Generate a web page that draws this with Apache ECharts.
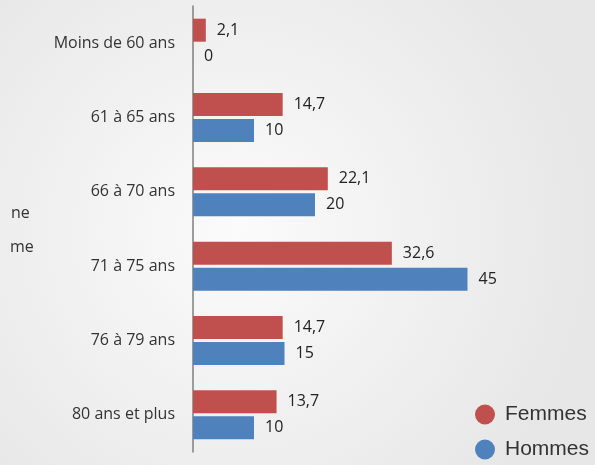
<!DOCTYPE html>
<html><head><meta charset="utf-8">
<script src="https://cdn.jsdelivr.net/npm/echarts@6/dist/echarts.min.js"></script>
<style>html,body{margin:0;padding:0;}#c{width:595px;height:465px;}</style>
</head><body><div id="c"></div>
<script>
const categories = ['Moins de 60 ans','61 à 65 ans','66 à 70 ans','71 à 75 ans','76 à 79 ans','80 ans et plus'];
const femmes = [2.1, 14.7, 22.1, 32.6, 14.7, 13.7];
const hommes = [0, 10, 20, 45, 15, 10];
const seriesNames = ['Femmes','Hommes'];
const strayTexts = ['ne','me'];

const fmt = p => String(p.value).replace('.', ',');
const chart = echarts.init(document.getElementById('c'));
chart.setOption({
  backgroundColor: {type:'radial', x:0.4, y:0.5, r:0.75,
    colorStops:[{offset:0,color:'#fbfbfb'},{offset:1,color:'#e7e7e7'}]},
  animation:false,
  grid:{left:193, top:6, width:366, height:446, containLabel:false},
  xAxis:{type:'value', min:0, max:60, show:false},
  yAxis:[{
    type:'category', data:categories, inverse:true,
    axisLine:{lineStyle:{color:'#7f7f7f', width:1.5}},
    axisTick:{length:6, lineStyle:{color:'#7f7f7f', width:1.5}},
    axisLabel:{margin:18, color:'#333', fontFamily:'Open Sans', fontSize:16}
  },{
    type:'category', data:categories, inverse:true, position:'left',
    axisLine:{show:false},
    axisTick:{inside:true, length:6, lineStyle:{color:'#7f7f7f', width:1.5}},
    axisLabel:{show:false}
  }],
  legend:{
    orient:'vertical', left:475, top:404, padding:0, icon:'circle',
    itemWidth:20, itemHeight:20, itemGap:14,
    textStyle:{fontFamily:'Liberation Sans', fontSize:21, color:'#333', padding:[0,0,0,5]},
    data:seriesNames
  },
  series:[
    {name:seriesNames[0], type:'bar', data:femmes, itemStyle:{color:'#C0504D'},
     barWidth:23, barGap:'13%',
     label:{show:true, position:'right', distance:11, formatter:fmt, color:'#222', fontFamily:'Open Sans', fontSize:16}},
    {name:seriesNames[1], type:'bar', data:hommes, itemStyle:{color:'#4F81BD'},
     barWidth:23,
     label:{show:true, position:'right', distance:11, formatter:fmt, color:'#222', fontFamily:'Open Sans', fontSize:16}}
  ],
  graphic:[
    {type:'text', left:11, top:205, style:{text:strayTexts[0], fontFamily:'Open Sans', fontSize:16, fill:'#333'}},
    {type:'text', left:10, top:239, style:{text:strayTexts[1], fontFamily:'Open Sans', fontSize:16, fill:'#333'}}
  ]
});
</script></body></html>
